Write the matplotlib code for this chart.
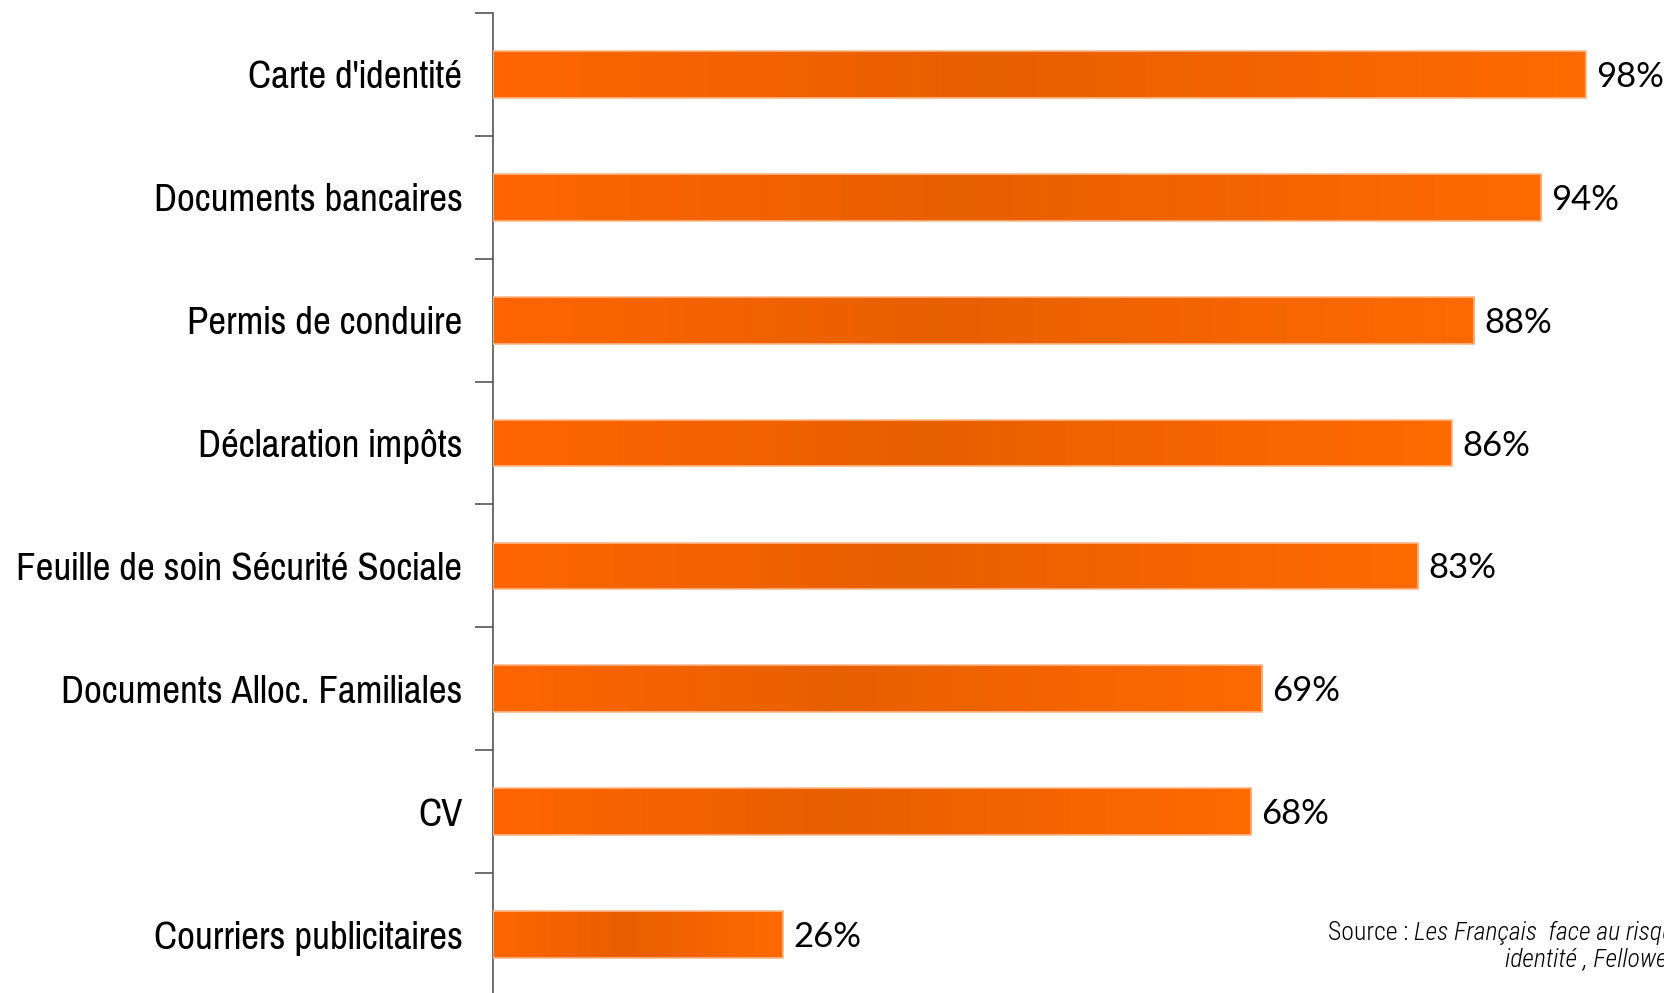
import numpy as np
import matplotlib
matplotlib.use("Agg")
import matplotlib.pyplot as plt
from matplotlib.colors import LinearSegmentedColormap
from matplotlib.patches import Rectangle

# === DATA ===
categories = ["Carte d'identité", "Documents bancaires", "Permis de conduire",
              "Déclaration impôts", "Feuille de soin Sécurité Sociale",
              "Documents Alloc. Familiales", "CV", "Courriers publicitaires"]
values = [98, 94, 88, 86, 83, 69, 68, 26]
value_labels = ["98%", "94%", "88%", "86%", "83%", "69%", "68%", "26%"]

LABEL_FONT = ["Pragati Narrow", "Archivo Narrow", "Liberation Sans", "DejaVu Sans"]
NOTE_FONT = ["Roboto Condensed", "Archivo Narrow", "Liberation Sans", "DejaVu Sans"]
VALUE_FONT = ["Lato", "DejaVu Sans"]

# horizontal gradient used on every bar
grad = LinearSegmentedColormap.from_list(
    "bar", [(0, "#ff6600"), (0.45, "#e85f00"), (1, "#ff6a00")])

fig = plt.figure(figsize=(16.65, 9.93), dpi=100)
ax = fig.add_axes([493 / 1665, -3 / 993, 1115 / 1665, 983 / 993])

ax.set_xlim(0, 100)
ax.set_ylim(len(categories) - 0.5, -0.5)

bar_h = 0.38
for i, v in enumerate(values):
    y0, y1 = i - bar_h / 2, i + bar_h / 2
    img = ax.imshow(np.linspace(0, 1, 256)[None, :], cmap=grad, aspect="auto",
                    extent=(0, v, y1, y0), interpolation="bilinear", zorder=2)
    rect = Rectangle((0, y0), v, bar_h, facecolor="none",
                     edgecolor="#f9b88a", linewidth=1.2, zorder=3)
    ax.add_patch(rect)
    img.set_clip_path(rect)
    ax.text(v + 0.9, i + 0.02, value_labels[i], va="center", ha="left",
            fontsize=25, family=VALUE_FONT, color="black")

# ticks: labels at bar centres, tick marks at boundaries
ax.set_yticks(range(len(categories)))
ax.set_yticklabels(categories, family=LABEL_FONT, fontsize=30.5)
ax.tick_params(axis="y", which="major", length=0, pad=22)
ax.set_yticks(np.arange(-0.5, len(categories)), minor=True)
ax.tick_params(axis="y", which="minor", length=13, width=1.2, color="#555555")
ax.set_xticks([])

for s in ["top", "right", "bottom"]:
    ax.spines[s].set_visible(False)
ax.spines["left"].set_color("#555555")
ax.spines["left"].set_linewidth(1.2)

# source note (runs off the right edge as in the original)
t1 = fig.text(1328 / 1665, 1 - 940 / 993, "Source : ", family=NOTE_FONT,
              weight=300, fontsize=18.5, va="baseline", ha="left")
ax.annotate("Les Français  face au risque d'usurpation d'", xy=(1, 0),
            xycoords=t1, va="bottom", ha="left", family=NOTE_FONT,
            style="italic", weight=300, fontsize=18.5, annotation_clip=False)
fig.text(1505 / 1665, 1 - 966 / 993, "identité , Fellowes 2009",
         family=NOTE_FONT, style="italic", weight=300, fontsize=18.5,
         va="baseline", ha="left")

fig.savefig("out.png", dpi=100)
